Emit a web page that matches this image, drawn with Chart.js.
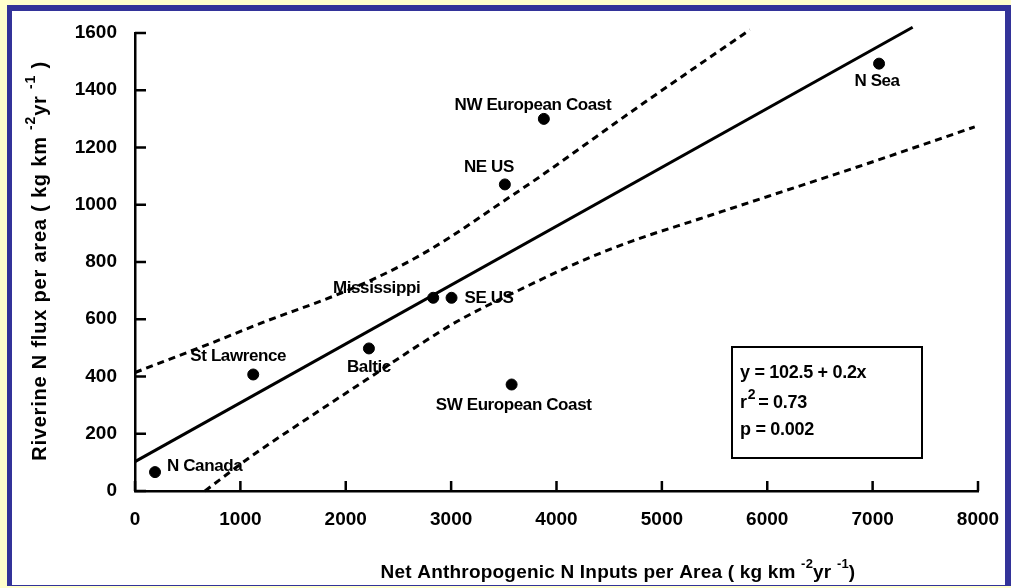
<!DOCTYPE html>
<html>
<head>
<meta charset="utf-8">
<script src="https://cdn.jsdelivr.net/npm/chart.js@4"></script>
<style>
  html, body { margin: 0; padding: 0; background: #FFFFCC; }
  #frame {
    position: absolute; left: 7px; top: 5px; width: 993px; height: 574px; background: #fff;
    border-left: 5px solid #333399; border-top: 6px solid #333399;
    border-right: 6px solid #333399; border-bottom: 1px solid #333399;
  }
  canvas { display: block; }
</style>
</head>
<body>
<div id="frame"><canvas id="nChart" width="993" height="574"></canvas></div>
<script>
// watersheds: net anthropogenic N input vs riverine N export
const regions = ['N Canada', 'St Lawrence', 'Baltic', 'Mississippi', 'SE US',
                 'SW European Coast', 'NE US', 'NW European Coast', 'N Sea'];
const nInputs = [190, 1122, 2220, 2830, 3004, 3574, 3510, 3880, 7061];
const nFlux   = [66, 407, 498, 675, 675, 372, 1071, 1300, 1493];

// regression line y = 102.5 + 0.2x
const fitX = [0, 7380];
const fitY = [102.5, 1620];

// confidence limits
const upperX = [0, 740, 1214, 1878, 2296, 2656, 2988, 3463, 3842, 4791, 5835];
const upperY = [414, 519, 589, 680, 746, 813, 886, 1004, 1098, 1346, 1611];
const lowerX = [664, 1091, 1565, 2201, 2704, 3055, 3652, 4221, 4724, 5360, 5996, 6944, 7969];
const lowerY = [0, 118, 236, 390, 512, 592, 703, 801, 874, 951, 1028, 1143, 1272];

const xTickStep = 1000;
const yTickStep = 200;

const statLines = ['y = 102.5 + 0.2x', 'r', '= 0.73', 'p = 0.002'];

const FONT = '"Liberation Sans", Arial, sans-serif';

const zip = (xs, ys) => xs.map((x, i) => ({ x: x, y: ys[i] }));

// where each site name sits relative to its dot
const labelPlace = {
  'N Canada':          { dx: 12,  dy: -6,  align: 'left' },
  'St Lawrence':       { dx: -15, dy: -18, align: 'center' },
  'Baltic':            { dx: 0,   dy: 19,  align: 'center' },
  'Mississippi':       { dx: -13, dy: -9,  align: 'right' },
  'SE US':             { dx: 13,  dy: 1,   align: 'left' },
  'SW European Coast': { dx: 2,   dy: 21,  align: 'center' },
  'NE US':             { dx: -16, dy: -17, align: 'center' },
  'NW European Coast': { dx: -11, dy: -14, align: 'center' },
  'N Sea':             { dx: -2,  dy: 18,  align: 'center' }
};

// text with superscripts, centred on (cx, cy)
function drawRich(ctx, parts, cx, cy, angle, size, supSize, spacing) {
  ctx.save();
  ctx.translate(cx, cy);
  ctx.rotate(angle);
  ctx.textBaseline = 'middle';
  ctx.textAlign = 'left';
  ctx.fillStyle = '#000';
  ctx.letterSpacing = spacing + 'px';
  let total = 0;
  parts.forEach(p => {
    ctx.font = 'bold ' + (p.sup ? supSize : size) + 'px ' + FONT;
    p.w = ctx.measureText(p.t).width;
    total += p.w;
  });
  let x = -total / 2;
  parts.forEach(p => {
    ctx.font = 'bold ' + (p.sup ? supSize : size) + 'px ' + FONT;
    ctx.fillText(p.t, x, p.sup ? -9 : 0);
    x += p.w;
  });
  ctx.restore();
}

const decorations = {
  id: 'decorations',
  afterDraw(chart) {
    const ctx = chart.ctx;
    const xs = chart.scales.x, ys = chart.scales.y;
    const area = chart.chartArea;

    // inward tick marks
    ctx.save();
    ctx.strokeStyle = '#000';
    ctx.lineWidth = 2.5;
    ctx.beginPath();
    xs.ticks.forEach(t => {
      const px = xs.getPixelForValue(t.value);
      ctx.moveTo(px, area.bottom);
      ctx.lineTo(px, area.bottom - 10);
    });
    ys.ticks.forEach(t => {
      const py = ys.getPixelForValue(t.value);
      ctx.moveTo(area.left, py);
      ctx.lineTo(area.left + 11, py);
    });
    ctx.stroke();
    ctx.restore();

    // site names
    const meta = chart.getDatasetMeta(0);
    ctx.save();
    ctx.fillStyle = '#000';
    ctx.font = 'bold 17px ' + FONT;
    ctx.letterSpacing = '-0.4px';
    ctx.textBaseline = 'middle';
    meta.data.forEach((pt, i) => {
      const lp = labelPlace[regions[i]];
      ctx.textAlign = lp.align;
      ctx.fillText(regions[i], pt.x + lp.dx, pt.y + lp.dy);
    });
    ctx.restore();

    // axis titles
    drawRich(ctx, [
      { t: 'Net Anthropogenic N Inputs per Area ( kg km ' },
      { t: '-2', sup: true },
      { t: 'yr ' },
      { t: '-1', sup: true },
      { t: ')' }
    ], 606, 562, 0, 19, 13, 0.2);
    drawRich(ctx, [
      { t: 'Riverine N flux per area ( kg km ' },
      { t: '-2', sup: true },
      { t: 'yr ' },
      { t: '-1', sup: true },
      { t: ' )' }
    ], 28, 250, -Math.PI / 2, 20, 14, 0.8);

    // regression statistics box
    ctx.save();
    ctx.strokeStyle = '#000';
    ctx.lineWidth = 2;
    ctx.strokeRect(720, 336, 190, 111);
    ctx.fillStyle = '#000';
    ctx.textBaseline = 'middle';
    ctx.textAlign = 'left';
    ctx.letterSpacing = '-0.3px';
    ctx.font = 'bold 18px ' + FONT;
    ctx.fillText(statLines[0], 728, 362);
    ctx.fillText(statLines[1], 728, 392);
    const rw = ctx.measureText(statLines[1]).width;
    ctx.font = 'bold 14px ' + FONT;
    ctx.fillText('2', 728 + rw + 1, 384);
    const sw = ctx.measureText('2').width;
    ctx.font = 'bold 18px ' + FONT;
    ctx.fillText(statLines[2], 728 + rw + sw + 4, 392);
    ctx.fillText(statLines[3], 728, 419);
    ctx.restore();
  }
};

const tickFont = { family: FONT, size: 19, weight: 'bold' };
const plainNumber = v => String(v);

const dashed = {
  showLine: true,
  borderColor: '#000',
  borderWidth: 3,
  borderDash: [7, 5],
  cubicInterpolationMode: 'monotone',
  pointRadius: 0,
  clip: false
};

new Chart(document.getElementById('nChart'), {
  type: 'scatter',
  data: {
    datasets: [
      {
        data: zip(nInputs, nFlux),
        backgroundColor: '#000',
        borderColor: '#000',
        pointRadius: 5.5,
        showLine: false
      },
      {
        data: zip(fitX, fitY),
        showLine: true,
        borderColor: '#000',
        borderWidth: 3,
        pointRadius: 0,
        clip: false
      },
      Object.assign({ data: zip(upperX, upperY) }, dashed),
      Object.assign({ data: zip(lowerX, lowerY) }, dashed)
    ]
  },
  options: {
    responsive: false,
    animation: false,
    layout: { padding: { left: 0, right: 27, top: 22, bottom: 0 } },
    plugins: {
      legend: { display: false },
      tooltip: { enabled: false }
    },
    scales: {
      x: {
        type: 'linear',
        min: 0,
        max: 8000,
        grid: { display: false },
        border: { display: true, color: '#000', width: 2.5 },
        ticks: { stepSize: xTickStep, color: '#000', font: tickFont, padding: 9, maxRotation: 0, callback: plainNumber },
        afterFit(scale) {
          scale.height = 94;
          scale.paddingLeft = 0;
          scale.paddingRight = 0;
        }
      },
      y: {
        min: 0,
        max: 1600,
        grid: { display: false },
        border: { display: true, color: '#000', width: 2.5 },
        ticks: { stepSize: yTickStep, color: '#000', font: tickFont, padding: 10, callback: plainNumber },
        afterFit(scale) {
          scale.width = 123;
          scale.paddingTop = 0;
          scale.paddingBottom = 0;
        }
      }
    }
  },
  plugins: [decorations]
});
</script>
</body>
</html>
